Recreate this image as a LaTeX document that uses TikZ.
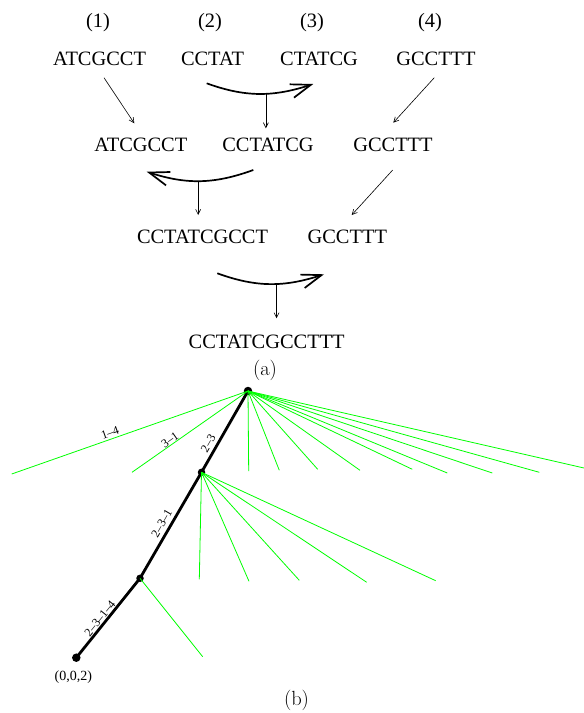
\documentclass[tikz,border=0pt]{standalone}
\usepackage{fontspec}
\newfontfamily\tms{Liberation Serif}
\usetikzlibrary{arrows.meta,calc}
\begin{document}
\begin{tikzpicture}[x=1pt,y=1pt,
  seq/.style={inner sep=0pt, font=\tms\fontsize{20.4}{24}\selectfont},
  thinarrow/.style={line width=0.6pt, -{Straight Barb[length=5pt,width=5pt]}},
  thickarrow/.style={line width=1.7pt, -{Straight Barb[length=20pt,width=14pt,line width=1.7pt]}},
  captext/.style={inner sep=0pt, font=\fontsize{20.5}{24}\selectfont},
  dot/.style={circle, fill=black, inner sep=0pt, minimum size=8.5pt},
  pathline/.style={line width=2.8pt},
  branch/.style={green, line width=0.8pt},
  elabel/.style={inner sep=0pt, font=\tms\fontsize{12}{14}\selectfont}
]
\useasboundingbox (0,0) rectangle (584,-713);

% ---------- part (a) ----------
\node[seq] (h1) at (98,-23) {(1)};
\node[seq] (h2) at (210,-23) {(2)};
\node[seq] (h3) at (312,-23) {(3)};
\node[seq] (h4) at (430,-23) {(4)};

\node[seq] (a1) at (99.5,-59) {ATCGCCT};
\node[seq] (a2) at (212.5,-59) {CCTAT};
\node[seq] (a3) at (319,-59) {CTATCG};
\node[seq] (a4) at (436,-59) {GCCTTT};

\node[seq] (b1) at (140.8,-145) {ATCGCCT};
\node[seq] (b2) at (268,-145) {CCTATCG};
\node[seq] (b3) at (393,-145) {GCCTTT};

\node[seq] (c1) at (202.5,-237.3) {CCTATCGCCT};
\node[seq] (c2) at (347.3,-237.3) {GCCTTT};

\node[seq] (d1) at (266.7,-341.7) {CCTATCGCCTTT};

\node[captext] (capa) at (265,-370) {(a)};

\draw[thinarrow] ([shift={(4.5,-18.7)}]a1.center) -- ([shift={(-6.5,21.7)}]b1.center);
\draw[thinarrow] ([shift={(-1.7,-18.7)}]a4.center) -- ([shift={(0.3,22.3)}]b3.center);
\draw[thinarrow] ([shift={(-0.3,-25)}]b3.center) -- ([shift={(4.4,22.3)}]c2.center);

\draw[thickarrow] ([shift={(-5.8,-24.3)}]a2.center) to[out=-20,in=198] coordinate[pos=0.56] (m1) ([shift={(-5.7,-25)}]a3.center);
\draw[thinarrow] (m1) -- ($(m1 |- b2.center)+(0,16.7)$);

\draw[thickarrow] ([shift={(-14.7,-25)}]b2.center) to[out=200,in=-18] coordinate[pos=0.52] (m2) ([shift={(5.9,-26.7)}]b1.center);
\draw[thinarrow] (m2) -- ($(m2 |- c1.center)+(0,22.3)$);

\draw[thickarrow] ([shift={(14.8,-36)}]c1.center) to[out=-20,in=198] coordinate[pos=0.56] (m3) ([shift={(-23.3,-37)}]c2.center);
\draw[thinarrow] (m3) -- ($(m3 |- d1.center)+(0,23.4)$);

% ---------- part (b) ----------
\node[dot] (P0) at (76.3,-657.7) {};
\node[dot, minimum size=7.5pt] (P1) at (140,-578.3) {};
\node[dot, minimum size=7.5pt] (P2) at (201.5,-472.3) {};
\node[dot] (P3) at (248,-391) {};

\draw[pathline] (P0.center) -- (P1.center) -- (P2.center) -- (P3.center);

\foreach \x/\y [count=\i] in {11.7/-474, 132/-472.3, 248.7/-471, 279.3/-470.3, 317.7/-469.3, 360/-470.3, 412.3/-469.3, 447.3/-473, 492.3/-473, 539.3/-472.3, 584/-468}{
  \coordinate (u\i) at (\x,\y);
  \draw[branch] (P3.center) -- (u\i);
}
\foreach \x/\y [count=\i] in {199.3/-579.3, 249/-581.3, 299.3/-580.3, 366.7/-582.3, 435.7/-580.7}{
  \coordinate (v\i) at (\x,\y);
  \draw[branch] (P2.center) -- (v\i);
}
\coordinate (w1) at (202.7,-656.7);
\draw[branch] (P1.center) -- (w1);

\node[elabel, rotate=19.4] (l14) at (110,-433) {1–4};
\node[elabel, rotate=35] (l31) at (170,-440) {3–1};
\node[elabel, rotate=60] (l23) at (208.3,-443.3) {2–3};
\node[elabel, rotate=60] (l231) at (161.7,-523.3) {2–3–1};
\node[elabel, rotate=51] (l2314) at (100,-618.3) {2–3–1–4};
\node[elabel, font=\tms\fontsize{14}{16}\selectfont] (orig) at (73.3,-677.3) {(0,0,2)};

\node[captext] (capb) at (296.5,-700) {(b)};
\end{tikzpicture}
\end{document}
